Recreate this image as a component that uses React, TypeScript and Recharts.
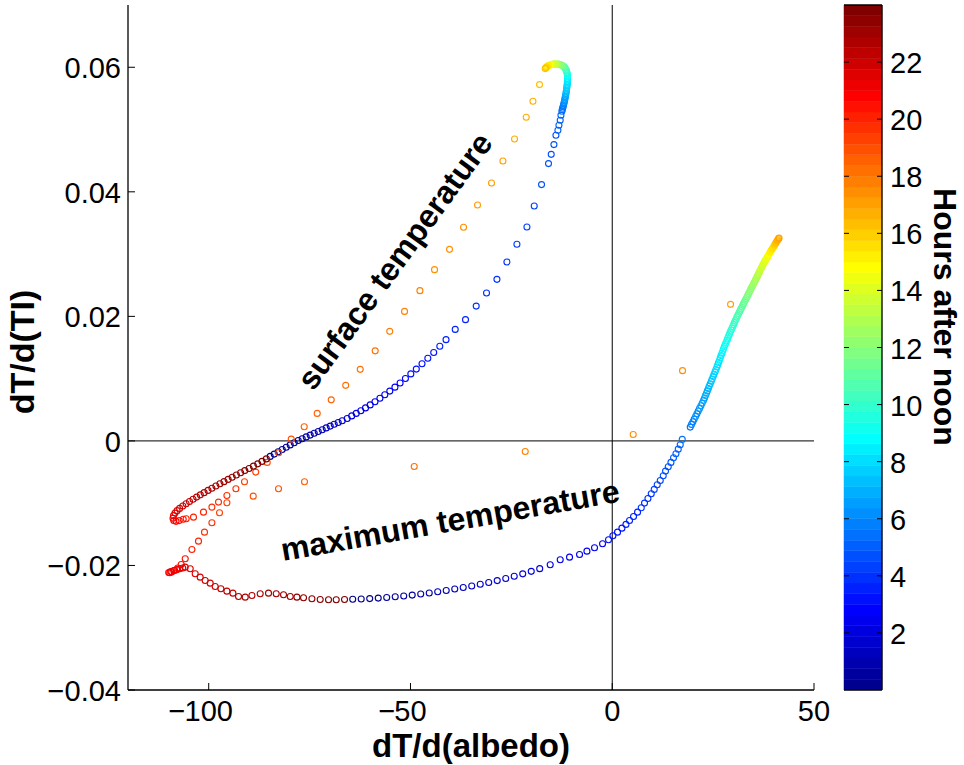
import React from "react";
import {
  Bar,
  BarChart,
  ReferenceDot,
  ReferenceLine,
  Scatter,
  ScatterChart,
  XAxis,
  YAxis,
} from "recharts";

const xTicks = [-100, -50, 0, 50];
const yTicks = [-0.04, -0.02, 0, 0.02, 0.04, 0.06];
const hourTicks = [2, 4, 6, 8, 10, 12, 14, 16, 18, 20, 22];

// [dT/d(albedo), dT/d(TI), hours after noon]
const surfaceTemp: [number, number, number][] = [
  [-84.76, -0.00249, 0.0], [-83.77, -0.00212, 0.1], [-82.78, -0.00175, 0.2], [-81.78, -0.00138, 0.3],
  [-80.79, -0.00101, 0.4], [-79.8, -0.00064, 0.5], [-78.81, -0.00029, 0.6], [-77.82, 0.00006, 0.7],
  [-76.83, 0.00035, 0.7], [-75.84, 0.00064, 0.8], [-74.85, 0.00093, 0.9], [-73.85, 0.00122, 1.0],
  [-72.86, 0.00151, 1.1], [-71.87, 0.0018, 1.2], [-70.88, 0.00209, 1.3], [-69.89, 0.00238, 1.4],
  [-68.9, 0.00267, 1.5], [-67.91, 0.00296, 1.6], [-66.91, 0.00324, 1.7], [-65.68, 0.00361, 1.8],
  [-64.56, 0.00402, 1.9], [-63.44, 0.00442, 2.0], [-62.3, 0.00485, 2.0], [-61.14, 0.0053, 2.1],
  [-59.98, 0.00578, 2.2], [-58.79, 0.0063, 2.3], [-57.57, 0.00684, 2.4], [-56.36, 0.00741, 2.5],
  [-55.12, 0.008, 2.6], [-53.85, 0.00863, 2.7], [-52.57, 0.0093, 2.8], [-51.25, 0.01001, 2.9],
  [-49.91, 0.01076, 3.0], [-48.55, 0.01153, 3.1], [-47.14, 0.01239, 3.2], [-45.7, 0.01327, 3.3],
  [-44.24, 0.0142, 3.3], [-42.73, 0.0152, 3.4], [-41.19, 0.01626, 3.5], [-38.91, 0.01791, 3.6],
  [-36.36, 0.01947, 3.7], [-33.71, 0.02165, 3.8], [-31.15, 0.02374, 3.9], [-28.57, 0.02594, 4.0],
  [-26.1, 0.02872, 4.1], [-23.62, 0.03157, 4.2], [-21.14, 0.03435, 4.3], [-19.33, 0.03772, 4.4],
  [-17.52, 0.04116, 4.5], [-15.79, 0.04453, 4.6], [-15.12, 0.04602, 4.6], [-14.45, 0.04758, 4.7],
  [-13.95, 0.04908, 4.8], [-13.46, 0.04988, 4.9], [-13.21, 0.05068, 5.0], [-12.89, 0.05149, 5.1],
  [-12.71, 0.05229, 5.2], [-12.47, 0.05293, 5.3],
  [-12.39, 0.05317, 5.4], [-12.29, 0.05341, 5.5], [-12.19, 0.05365, 5.6], [-12.09, 0.0539, 5.8],
  [-12.0, 0.05414, 5.9], [-11.9, 0.05438, 6.1], [-11.82, 0.05462, 6.2], [-11.75, 0.05486, 6.4],
  [-11.67, 0.0551, 6.5], [-11.6, 0.05534, 6.7], [-11.52, 0.05558, 6.8], [-11.45, 0.05582, 7.0],
  [-11.4, 0.05606, 7.2], [-11.35, 0.05631, 7.3], [-11.3, 0.05655, 7.5], [-11.25, 0.05679, 7.6],
  [-11.2, 0.05703, 7.8], [-11.15, 0.05727, 7.9], [-11.13, 0.05751, 8.1], [-11.1, 0.05775, 8.2],
  [-11.08, 0.05799, 8.4], [-11.08, 0.05823, 8.6], [-11.08, 0.05847, 8.8], [-11.1, 0.05871, 9.0],
  [-11.15, 0.05896, 9.3], [-11.23, 0.0592, 9.6], [-11.33, 0.05942, 9.9], [-11.47, 0.05965, 10.2],
  [-11.65, 0.05984, 10.5], [-11.85, 0.06002, 10.8], [-12.07, 0.06016, 11.1], [-12.32, 0.06027, 11.4],
  [-12.59, 0.06035, 11.7], [-12.86, 0.06042, 12.0], [-13.14, 0.06047, 12.3], [-13.43, 0.0605, 12.6],
  [-13.73, 0.06051, 12.9], [-14.03, 0.06051, 13.2], [-14.32, 0.06051, 13.5], [-14.62, 0.0605, 13.8],
  [-14.92, 0.06047, 14.1], [-15.22, 0.06042, 14.4], [-15.49, 0.06035, 14.7], [-15.76, 0.06027, 15.0],
  [-16.01, 0.06018, 15.3], [-16.23, 0.06006, 15.6], [-16.43, 0.05994, 15.9], [-16.6, 0.05979, 16.2],
  [-18.02, 0.05722, 16.4], [-19.65, 0.05454, 16.5], [-21.31, 0.05197, 16.6], [-24.21, 0.04848, 16.8],
  [-27.09, 0.04495, 16.9], [-29.91, 0.04141, 17.0], [-33.38, 0.03788, 17.2], [-36.85, 0.0343, 17.3],
  [-40.32, 0.03076, 17.4], [-44.04, 0.0275, 17.6], [-47.66, 0.02413, 17.7], [-51.47, 0.0208, 17.8],
  [-55.14, 0.01759, 17.9], [-58.74, 0.01446, 18.1], [-62.45, 0.01149, 18.2], [-66.05, 0.00892, 18.3],
  [-69.64, 0.00659, 18.5], [-73.11, 0.00442, 18.6], [-76.33, 0.00228, 18.7], [-79.55, 0.00029, 18.8],
  [-82.65, -0.0019, 19.0], [-85.5, -0.00345, 19.1], [-88.35, -0.00501, 19.2], [-91.13, -0.00655, 19.4],
  [-93.26, -0.00768, 19.5], [-95.49, -0.00876, 19.6], [-97.57, -0.00983, 19.7], [-99.21, -0.01063, 19.8],
  [-101.29, -0.01144, 19.9], [-103.77, -0.01224, 20.0], [-105.58, -0.0125, 20.1],
  [-106.32, -0.01258, 20.3], [-107.31, -0.0128, 20.5], [-108.1, -0.01292, 20.7], [-108.65, -0.01277, 20.9],
  [-108.85, -0.01242, 21.1], [-108.72, -0.012, 21.3], [-108.35, -0.01159, 21.5], [-107.83, -0.0112, 21.7],
  [-107.21, -0.01084, 21.9], [-106.42, -0.01046, 22.0], [-105.6, -0.01009, 22.1], [-104.76, -0.00972, 22.2],
  [-103.89, -0.00937, 22.3], [-103.0, -0.00902, 22.4], [-102.08, -0.00866, 22.5], [-101.14, -0.00831, 22.6],
  [-100.17, -0.00795, 22.7], [-99.21, -0.0076, 22.8], [-98.22, -0.00725, 22.9], [-97.22, -0.00689, 23.0],
  [-96.21, -0.00654, 23.1], [-95.19, -0.00618, 23.2], [-94.18, -0.00583, 23.3], [-93.14, -0.00548, 23.4],
  [-92.09, -0.00512, 23.5], [-91.05, -0.00477, 23.6], [-89.99, -0.00442, 23.7], [-88.92, -0.00405, 23.75],
  [-87.86, -0.00368, 23.8], [-86.79, -0.00329, 23.85], [-85.72, -0.00289, 23.9],
];

const maxTemp: [number, number, number][] = [
  [-64.31, -0.02543, 0.0], [-62.21, -0.02538, 0.1], [-60.1, -0.02532, 0.2], [-57.99, -0.02524, 0.3],
  [-55.89, -0.02514, 0.4], [-53.78, -0.02503, 0.5], [-51.67, -0.0249, 0.6], [-49.57, -0.02476, 0.7],
  [-47.46, -0.02459, 0.8], [-45.35, -0.02442, 0.9], [-43.25, -0.02422, 1.0], [-41.14, -0.02402, 1.1],
  [-39.03, -0.02379, 1.2], [-36.93, -0.02355, 1.3], [-34.82, -0.02329, 1.4], [-32.71, -0.02302, 1.5],
  [-30.61, -0.02273, 1.6], [-28.5, -0.02243, 1.7], [-26.39, -0.02209, 1.8], [-24.29, -0.02173, 1.9],
  [-22.18, -0.02135, 2.0], [-20.07, -0.02095, 2.1], [-17.97, -0.02051, 2.2], [-15.37, -0.01989, 2.3],
  [-12.89, -0.01908, 2.4], [-10.58, -0.01867, 2.5], [-8.1, -0.01823, 2.6], [-6.27, -0.0177, 2.7],
  [-4.39, -0.01716, 2.8], [-2.4, -0.01651, 2.9], [-0.92, -0.01587, 3.0], [0.17, -0.01523, 3.1],
  [1.31, -0.01465, 3.2], [2.4, -0.01401, 3.3], [3.4, -0.01341, 3.4], [4.29, -0.01277, 3.5],
  [5.28, -0.01213, 3.6], [6.27, -0.01144, 3.7], [7.19, -0.01073, 3.8], [8.0, -0.00999, 3.9],
  [8.85, -0.00924, 4.0], [9.67, -0.00848, 4.1], [10.41, -0.00779, 4.2], [11.15, -0.00703, 4.3],
  [11.9, -0.00635, 4.4], [12.64, -0.00559, 4.5], [13.21, -0.00485, 4.6], [13.88, -0.00414, 4.7],
  [14.55, -0.00345, 4.8], [15.19, -0.0027, 4.9], [15.79, -0.00206, 5.0], [16.36, -0.00132, 5.1],
  [16.85, -0.00061, 5.2], [17.35, 0.00024, 5.3],
  [19.33, 0.00222, 5.6], [19.65, 0.00265, 5.7], [20.0, 0.00308, 5.8], [20.32, 0.0035, 5.9],
  [20.67, 0.00394, 6.0], [20.99, 0.00437, 6.1], [21.31, 0.0048, 6.2], [21.64, 0.00522, 6.3],
  [21.98, 0.00565, 6.4], [22.3, 0.00607, 6.5], [22.63, 0.00651, 6.6], [22.87, 0.00689, 6.7],
  [23.1, 0.00728, 6.8], [23.35, 0.00766, 6.9], [23.57, 0.00803, 7.0], [23.82, 0.00842, 7.1],
  [24.04, 0.0088, 7.2], [24.29, 0.00919, 7.3], [24.54, 0.00957, 7.4], [24.76, 0.00994, 7.5],
  [25.01, 0.01033, 7.6], [25.23, 0.01071, 7.7], [25.48, 0.0111, 7.8], [25.7, 0.01147, 7.9],
  [25.95, 0.01186, 8.0], [26.15, 0.01222, 8.1], [26.34, 0.01259, 8.2], [26.57, 0.01296, 8.3],
  [26.77, 0.01333, 8.4], [26.96, 0.0137, 8.5], [27.19, 0.01407, 8.6], [27.39, 0.01444, 8.7],
  [27.58, 0.01481, 8.8], [27.78, 0.01515, 8.9], [28.0, 0.01549, 9.0], [28.2, 0.01581, 9.1],
  [28.43, 0.01614, 9.2], [28.62, 0.01648, 9.3], [28.82, 0.01682, 9.4], [29.05, 0.01714, 9.5],
  [29.24, 0.01748, 9.6], [29.44, 0.01778, 9.7], [29.67, 0.01809, 9.8], [29.86, 0.01838, 9.9],
  [30.09, 0.01868, 10.0], [30.28, 0.01899, 10.1], [30.48, 0.01929, 10.2], [30.71, 0.01958, 10.3],
  [30.9, 0.01989, 10.4], [31.1, 0.02016, 10.5], [31.3, 0.02043, 10.6], [31.52, 0.02069, 10.7],
  [31.72, 0.02096, 10.8], [31.92, 0.02124, 10.9], [32.14, 0.02149, 11.0], [32.34, 0.02177, 11.1],
  [32.54, 0.02204, 11.2], [32.74, 0.02231, 11.3], [32.96, 0.02257, 11.4], [33.16, 0.02284, 11.5],
  [33.38, 0.0231, 11.6], [33.58, 0.02337, 11.7], [33.78, 0.02365, 11.8], [34.0, 0.0239, 11.9],
  [34.2, 0.02418, 12.0], [34.37, 0.02442, 12.1], [34.57, 0.02466, 12.2], [34.75, 0.02488, 12.3],
  [34.94, 0.02512, 12.4], [35.12, 0.02537, 12.5], [35.32, 0.02561, 12.6], [35.49, 0.02583, 12.7],
  [35.66, 0.02607, 12.8], [35.86, 0.02631, 12.9], [36.03, 0.02652, 13.0], [36.18, 0.02675, 13.1],
  [36.36, 0.02696, 13.2], [36.51, 0.02718, 13.3], [36.68, 0.02739, 13.4], [36.85, 0.0276, 13.5],
  [37.0, 0.02782, 13.6], [37.17, 0.02803, 13.7], [37.32, 0.02826, 13.8], [37.5, 0.02847, 13.9],
  [37.67, 0.02866, 14.0], [37.82, 0.02884, 14.1], [37.99, 0.02903, 14.2], [38.17, 0.0292, 14.3],
  [38.34, 0.0294, 14.4], [38.49, 0.02959, 14.5], [38.66, 0.02977, 14.6], [38.83, 0.02996, 14.7],
  [38.98, 0.03014, 14.8], [39.16, 0.03033, 15.0], [39.33, 0.03051, 15.1], [39.5, 0.03068, 15.3],
  [39.68, 0.03086, 15.4], [39.85, 0.03105, 15.6], [40.02, 0.03123, 15.7], [40.2, 0.03141, 15.9],
  [40.35, 0.03158, 16.0], [40.52, 0.03176, 16.2], [40.69, 0.03195, 16.3], [40.87, 0.03213, 16.5],
  [41.04, 0.03231, 16.6], [41.21, 0.03248, 16.8], [41.34, 0.03259, 16.9],
  [29.32, 0.02193, 17.0], [17.42, 0.01128, 17.3], [5.2, 0.00104, 17.6], [-21.56, -0.00169, 17.9],
  [-49.07, -0.0041, 18.2], [-76.26, -0.00655, 18.5], [-82.7, -0.00768, 18.8], [-88.97, -0.00887, 19.0],
  [-95.49, -0.00993, 19.2], [-97.32, -0.01153, 19.4], [-99.21, -0.01314, 19.6], [-101.04, -0.01465, 19.8],
  [-102.53, -0.0161, 19.95], [-104.16, -0.01743, 20.1], [-105.82, -0.01892, 20.25], [-106.81, -0.01984, 20.4],
  [-107.68, -0.0204, 20.5], [-108.43, -0.0208, 20.6], [-109.17, -0.02104, 20.7], [-109.66, -0.02117, 20.8],
  [-109.91, -0.02112, 20.9], [-109.42, -0.02096, 21.0], [-108.67, -0.0208, 21.1], [-107.93, -0.02067, 21.2],
  [-107.19, -0.02053, 21.3], [-106.44, -0.0204, 21.4],
  [-105.82, -0.02027, 21.5], [-104.58, -0.02053, 21.6], [-103.35, -0.02133, 21.7], [-102.11, -0.02188, 21.8],
  [-100.87, -0.02241, 21.9], [-99.63, -0.02284, 22.0], [-98.39, -0.02337, 22.1], [-96.98, -0.02374, 22.2],
  [-95.49, -0.02413, 22.3], [-94.0, -0.02445, 22.4], [-92.61, -0.02498, 22.5], [-90.95, -0.02509, 22.6],
  [-89.29, -0.02482, 22.7], [-87.24, -0.02455, 22.8], [-85.18, -0.02445, 22.9], [-83.27, -0.02455, 23.0],
  [-81.46, -0.02471, 23.1], [-79.8, -0.02498, 23.2], [-78.14, -0.02509, 23.3], [-76.5, -0.02519, 23.4],
  [-74.42, -0.02535, 23.5], [-72.37, -0.02546, 23.6], [-70.31, -0.02551, 23.7], [-68.4, -0.02551, 23.8],
  [-66.34, -0.02546, 23.9],
];

const FONT = '"Liberation Sans", Arial, Helvetica, sans-serif';
const TICK_FS = 29;
const AXIS_LABEL_FS = 33;
const NOTE_FS = 32;
const PLOT_LEFT = 128;
const PLOT_RIGHT = 814;
const PLOT_TOP = 5;
const PLOT_BOTTOM = 690;
const TICK_LEN = 7;
// colorbar, local coordinates of its own chart
const CB_LEFT = 1;
const CB_RIGHT = 39;

// MATLAB jet(64), k = 1..64
function jetIndex(k: number) {
  const u = (i: number) => (i < 1 || i > 47 ? 0 : i <= 16 ? i / 16 : i <= 31 ? 1 : (48 - i) / 16);
  const r = Math.round(u(k - 24) * 255);
  const g = Math.round(u(k - 8) * 255);
  const b = Math.round(u(k + 8) * 255);
  return `rgb(${r},${g},${b})`;
}

function jetColor(hour: number) {
  return jetIndex(Math.min(64, Math.max(1, Math.floor((hour / 24) * 64) + 1)));
}

const toPoints = (arr: [number, number, number][]) => arr.map(([x, y, h]) => ({ x, y, h }));

const fmt = (v: number) => (v < 0 ? "\u2212" : "") + String(Math.abs(v));

const textStyle = { fontFamily: FONT, fill: "#000" };

const ring = (p: any) => (
  <circle cx={p.cx} cy={p.cy} r={3} fill="none" stroke={jetColor(p.payload.h)} strokeWidth={1.1} />
);

const BottomTick = (p: any) => {
  const v: number = p.payload.value;
  const digits = String(Math.abs(v));
  const half = (digits.length * 0.556 * TICK_FS) / 2;
  return (
    <g>
      <line x1={p.x} x2={p.x} y1={PLOT_BOTTOM} y2={PLOT_BOTTOM - TICK_LEN} stroke="#000" />
      <text x={p.x} y={PLOT_BOTTOM + 31} textAnchor="middle" fontSize={TICK_FS} {...textStyle}>
        {digits}
      </text>
      {v < 0 && (
        <text x={p.x - half + 1} y={PLOT_BOTTOM + 31} textAnchor="end" fontSize={TICK_FS} {...textStyle}>
          {"\u2212"}
        </text>
      )}
    </g>
  );
};

const TopTick = (p: any) => (
  <line x1={p.x} x2={p.x} y1={PLOT_TOP} y2={PLOT_TOP + TICK_LEN} stroke="#000" />
);

const LeftTick = (p: any) => (
  <g>
    <line x1={PLOT_LEFT} x2={PLOT_LEFT + TICK_LEN} y1={p.y} y2={p.y} stroke="#000" />
    <text x={PLOT_LEFT - 7} y={p.y + 11} textAnchor="end" fontSize={TICK_FS} {...textStyle}>
      {fmt(p.payload.value)}
    </text>
  </g>
);

const RightTick = (p: any) => (
  <line x1={PLOT_RIGHT} x2={PLOT_RIGHT - TICK_LEN} y1={p.y} y2={p.y} stroke="#000" />
);

const CbLabelTick = (p: any) => (
  <text x={CB_RIGHT + 8} y={p.y + 11} textAnchor="start" fontSize={TICK_FS} {...textStyle}>
    {p.payload.value}
  </text>
);

// short inward tick marks on both edges of the colorbar
const cbTickMark = (p: any) => {
  const left = Math.min(p.x1, p.x2);
  const right = Math.max(p.x1, p.x2);
  return (
    <g>
      <line x1={left} x2={left + 5} y1={p.y1} y2={p.y1} stroke="#000" strokeWidth={1} />
      <line x1={right - 5} x2={right} y1={p.y1} y2={p.y1} stroke="#000" strokeWidth={1} />
    </g>
  );
};

const rotatedNote = (text: string, angle: number) => (p: any) => {
  const { x, y } = p.viewBox;
  return (
    <text
      x={x}
      y={y}
      dy="0.28em"
      transform={`rotate(${angle} ${x} ${y})`}
      textAnchor="middle"
      fontSize={NOTE_FS}
      fontWeight="bold"
      {...textStyle}
    >
      {text}
    </text>
  );
};

// 64 equal colour steps of the colorbar
const bands = Array.from({ length: 64 }, (_, i) => i);
const colorbarRow = [
  bands.reduce(
    (row: Record<string, number | string>, i) => {
      row[`b${i}`] = 24 / 64;
      return row;
    },
    { name: "hours" }
  ),
];

export default function App() {
  const surfaceData = toPoints(surfaceTemp);
  const maxData = toPoints(maxTemp);

  return (
    <div style={{ position: "relative", width: 964, height: 765, background: "#fff" }}>
      <style>{"body{margin:0}"}</style>
      <div style={{ position: "absolute", left: 0, top: 0 }}>
        <ScatterChart width={964} height={765} margin={{ top: PLOT_TOP, right: 150, bottom: 0, left: 0 }}>
          <XAxis
            type="number"
            dataKey="x"
            domain={[-120, 50]}
            ticks={xTicks}
            interval={0}
            height={75}
            allowDataOverflow
            tickLine={false}
            axisLine={{ stroke: "#000", strokeWidth: 1.3 }}
            tick={BottomTick}
            label={() => (
              <text x={471} y={757} textAnchor="middle" fontSize={AXIS_LABEL_FS} fontWeight="bold" {...textStyle}>
                dT/d(albedo)
              </text>
            )}
          />
          <XAxis
            xAxisId="top"
            orientation="top"
            type="number"
            domain={[-120, 50]}
            ticks={xTicks}
            interval={0}
            height={0}
            tickLine={false}
            axisLine={{ stroke: "#000", strokeWidth: 1.3 }}
            tick={TopTick}
          />
          <YAxis
            type="number"
            dataKey="y"
            domain={[-0.04, 0.07]}
            ticks={yTicks}
            interval={0}
            width={PLOT_LEFT}
            allowDataOverflow
            tickLine={false}
            axisLine={{ stroke: "#000", strokeWidth: 1.3 }}
            tick={LeftTick}
            label={() => (
              <text
                x={34}
                y={352}
                transform="rotate(-90 34 352)"
                textAnchor="middle"
                fontSize={AXIS_LABEL_FS + 1}
                fontWeight="bold"
                {...textStyle}
              >
                dT/d(TI)
              </text>
            )}
          />
          <YAxis
            yAxisId="right"
            orientation="right"
            type="number"
            domain={[-0.04, 0.07]}
            ticks={yTicks}
            interval={0}
            width={0}
            tickLine={false}
            axisLine={{ stroke: "#000", strokeWidth: 1.3 }}
            tick={RightTick}
          />
          <ReferenceLine x={0} stroke="#000" strokeWidth={1} />
          <ReferenceLine y={0} stroke="#000" strokeWidth={1} />
          <Scatter data={surfaceData} shape={ring} isAnimationActive={false} />
          <Scatter data={maxData} shape={ring} isAnimationActive={false} />
          <ReferenceDot
            x={-53.5}
            y={0.0287}
            r={0}
            fill="none"
            stroke="none"
            label={rotatedNote("surface temperature", -54)}
          />
          <ReferenceDot
            x={-40.1}
            y={-0.0131}
            r={0}
            fill="none"
            stroke="none"
            label={rotatedNote("maximum temperature", -10)}
          />
        </ScatterChart>
      </div>
      <div style={{ position: "absolute", left: 843, top: 0 }}>
        <BarChart
          width={121}
          height={765}
          data={colorbarRow}
          margin={{ top: PLOT_TOP, right: 0, bottom: 75, left: CB_LEFT }}
          barCategoryGap={0}
          barGap={0}
        >
          <XAxis dataKey="name" hide />
          <YAxis
            yAxisId="edge"
            orientation="left"
            type="number"
            domain={[0, 24]}
            width={0}
            tick={false}
            tickLine={false}
            axisLine={{ stroke: "#000", strokeWidth: 1.3 }}
          />
          <YAxis
            orientation="right"
            type="number"
            domain={[0, 24]}
            ticks={hourTicks}
            interval={0}
            width={121 - CB_RIGHT}
            allowDataOverflow
            tickLine={false}
            axisLine={{ stroke: "#000", strokeWidth: 1.3 }}
            tick={CbLabelTick}
            label={() => (
              <text
                x={91}
                y={317}
                transform="rotate(90 91 317)"
                textAnchor="middle"
                fontSize={NOTE_FS}
                fontWeight="bold"
                {...textStyle}
              >
                Hours after noon
              </text>
            )}
          />
          {bands.map((i) => (
            <Bar
              key={i}
              dataKey={`b${i}`}
              stackId="cb"
              fill={jetIndex(i + 1)}
              stroke={jetIndex(i + 1)}
              strokeWidth={0.5}
              isAnimationActive={false}
            />
          ))}
          {hourTicks.map((h) => (
            <ReferenceLine key={h} y={h} shape={cbTickMark} />
          ))}
          <ReferenceLine y={24} stroke="#000" strokeWidth={1.3} />
          <ReferenceLine y={0} stroke="#000" strokeWidth={1.3} />
        </BarChart>
      </div>
    </div>
  );
}
